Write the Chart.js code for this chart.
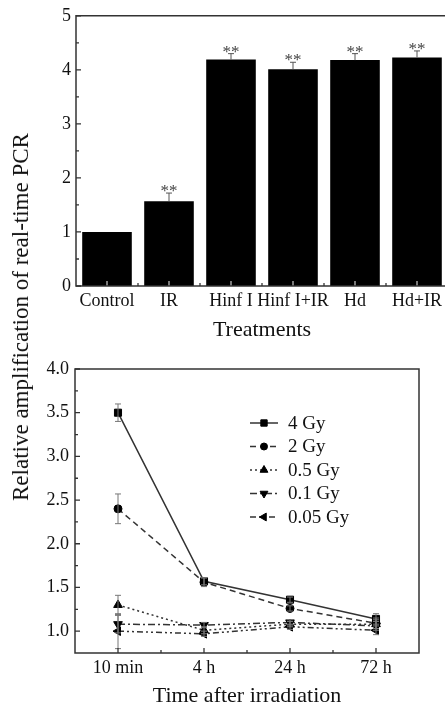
<!DOCTYPE html>
<html>
<head>
<meta charset="utf-8">
<script src="https://cdn.jsdelivr.net/npm/chart.js@4.4.1/dist/chart.umd.min.js"></script>
<style>
  html, body { margin: 0; padding: 0; background: #fff; }
  body { width: 445px; height: 710px; position: relative; overflow: hidden; }
  #barChart { position: absolute; left: 0; top: 0; }
  #lineChart { position: absolute; left: 0; top: 350px; }
  #yTitle {
    position: absolute; left: 21px; top: 317px;
    transform: translate(-50%, -50%) rotate(-90deg);
    font: 23px "Liberation Serif"; color: #111; white-space: nowrap;
  }
</style>
</head>
<body>
<canvas id="barChart" width="452" height="350"></canvas>
<canvas id="lineChart" width="445" height="360"></canvas>
<div id="yTitle">Relative amplification of real-time PCR</div>
<script>
// top panel data
const treatments = ['Control', 'IR', 'Hinf I', 'Hinf I+IR', 'Hd', 'Hd+IR'];
const amplification = [1.0, 1.57, 4.19, 4.01, 4.18, 4.23];
const amplificationErr = [0, 0.15, 0.11, 0.13, 0.12, 0.12];
const significance = ['', '**', '**', '**', '**', '**'];
const barTicks = [0, 1, 2, 3, 4, 5];

// bottom panel data
const timePoints = ['10 min', '4 h', '24 h', '72 h'];
const doses = ['4 Gy', '2 Gy', '0.5 Gy', '0.1 Gy', '0.05 Gy'];
const gy4 = [3.5, 1.57, 1.36, 1.14];
const gy2 = [2.4, 1.56, 1.26, 1.09];
const gy05 = [1.3, 1.01, 1.08, 1.08];
const gy01 = [1.08, 1.07, 1.10, 1.06];
const gy005 = [1.0, 0.97, 1.05, 1.01];
const gy4Err = [0.10, 0.04, 0.03, 0.06];
const gy2Err = [0.17, 0.05, 0.03, 0.06];
const gy05Err = [0.11, 0.04, 0.03, 0.05];
const gy01Err = [0.10, 0.03, 0.03, 0.05];
const gy005Err = [0.20, 0.03, 0.03, 0.05];
const lineTicks = [1.0, 1.5, 2.0, 2.5, 3.0, 3.5, 4.0];

const serif = 'Liberation Serif';
const ink = '#111';

// axis box with inward ticks (major on ticks, minor halfway)
const axisFrame = {
  id: 'axisFrame',
  afterDatasetsDraw(chart, args, opts) {
    const { ctx, chartArea: a, scales: { x, y } } = chart;
    ctx.save();
    ctx.lineWidth = 1.3;
    const yVals = y.ticks.map(t => t.value);
    ctx.strokeStyle = '#333';
    ctx.beginPath();
    yVals.forEach((v, i) => {
      const py = y.getPixelForValue(v);
      ctx.moveTo(a.left, py); ctx.lineTo(a.left + 5, py);
      if (i < yVals.length - 1) {
        const pm = y.getPixelForValue((v + yVals[i + 1]) / 2);
        ctx.moveTo(a.left, pm); ctx.lineTo(a.left + 3, pm);
      }
    });
    ctx.stroke();
    const n = x.getLabels().length;
    for (let i = 0; i < n; i++) {
      const px = x.getPixelForValue(i);
      ctx.strokeStyle = opts.xMajorColor || '#333';
      ctx.beginPath(); ctx.moveTo(px, a.bottom); ctx.lineTo(px, a.bottom - 5); ctx.stroke();
      if (i < n - 1) {
        const pm = (px + x.getPixelForValue(i + 1)) / 2;
        ctx.strokeStyle = '#333';
        ctx.beginPath(); ctx.moveTo(pm, a.bottom); ctx.lineTo(pm, a.bottom - 3); ctx.stroke();
      }
    }
    ctx.strokeStyle = '#333';
    ctx.lineWidth = 1.5;
    ctx.beginPath();
    if (opts.box) {
      ctx.rect(a.left, a.top, a.right - a.left, a.bottom - a.top);
    } else {
      ctx.moveTo(a.right + 10, a.top); ctx.lineTo(a.left, a.top);
      ctx.lineTo(a.left, a.bottom); ctx.lineTo(a.right + 10, a.bottom);
    }
    ctx.stroke();
    ctx.restore();
  }
};

const errorBars = {
  id: 'errorBars',
  afterDatasetsDraw(chart, args, opts) {
    const { ctx } = chart;
    const y = chart.scales.y;
    ctx.save();
    chart.data.datasets.forEach((ds, di) => {
      if (!ds.errors) return;
      const meta = chart.getDatasetMeta(di);
      meta.data.forEach((el, i) => {
        const v = ds.data[i];
        const e = ds.errors[i];
        const top = y.getPixelForValue(v + e);
        const bot = opts.upperOnly ? y.getPixelForValue(v) : y.getPixelForValue(v - e);
        if (e) {
          ctx.strokeStyle = opts.color;
          ctx.lineWidth = 1;
          ctx.beginPath();
          ctx.moveTo(el.x, bot); ctx.lineTo(el.x, top);
          ctx.moveTo(el.x - 3, top); ctx.lineTo(el.x + 3, top);
          if (!opts.upperOnly) { ctx.moveTo(el.x - 3, bot); ctx.lineTo(el.x + 3, bot); }
          ctx.stroke();
        }
        if (ds.marks && ds.marks[i]) {
          ctx.fillStyle = '#444';
          ctx.font = '17px "' + serif + '"';
          ctx.textAlign = 'center';
          ctx.textBaseline = 'alphabetic';
          ctx.fillText(ds.marks[i], el.x, top + 3);
        }
      });
    });
    ctx.restore();
  }
};

const lineLegend = {
  id: 'lineLegend',
  afterDraw(chart, args, opts) {
    const { ctx } = chart;
    chart.data.datasets.forEach((ds, i) => {
      const yy = opts.top + i * opts.gap;
      ctx.save();
      ctx.strokeStyle = ds.borderColor;
      ctx.lineWidth = ds.borderWidth;
      ctx.setLineDash(ds.borderDash || []);
      ctx.beginPath();
      ctx.moveTo(opts.left, yy); ctx.lineTo(opts.left + opts.len, yy);
      ctx.stroke();
      ctx.setLineDash([]);
      ctx.fillStyle = '#000';
      ctx.strokeStyle = '#000';
      ctx.lineWidth = 1;
      Chart.helpers.drawPoint(ctx, {
        pointStyle: ds.pointStyle, rotation: ds.pointRotation || 0,
        radius: ds.pointRadius - 0.5, borderWidth: 1
      }, opts.left + opts.len / 2, yy);
      ctx.fillStyle = ink;
      ctx.font = '19px "' + serif + '"';
      ctx.textAlign = 'left';
      ctx.textBaseline = 'middle';
      ctx.fillText(ds.label, opts.left + opts.len + 10, yy + 1);
      ctx.restore();
    });
  }
};

const tickFont = { family: serif, size: 18 };
const titleFont = { family: serif, size: 22 };

new Chart(document.getElementById('barChart'), {
  type: 'bar',
  data: {
    labels: treatments,
    datasets: [{
      data: amplification,
      errors: amplificationErr,
      marks: significance,
      backgroundColor: '#000',
      barPercentage: 0.8,
      categoryPercentage: 1.0
    }]
  },
  options: {
    responsive: false,
    devicePixelRatio: 1,
    animation: false,
    layout: { padding: { top: 13, right: 4, left: 0, bottom: 0 } },
    plugins: {
      legend: { display: false },
      tooltip: { enabled: false },
      axisFrame: { box: false, xMajorColor: '#bbb' },
      errorBars: { upperOnly: true, color: '#555' }
    },
    scales: {
      x: {
        offset: true,
        grid: { display: false, drawTicks: false },
        border: { display: false },
        ticks: { font: tickFont, color: ink, padding: 4, maxRotation: 0, autoSkip: false },
        title: { display: true, text: 'Treatments', font: titleFont, color: ink, padding: { top: 0, bottom: 7 } },
        afterFit: s => { s.height = 64; }
      },
      y: {
        min: 0, max: 5,
        afterBuildTicks: s => { s.ticks = barTicks.map(v => ({ value: v })); },
        grid: { display: false, drawTicks: false },
        border: { display: false },
        ticks: { font: tickFont, color: ink, padding: 5 },
        afterFit: s => { s.width = 76; }
      }
    }
  },
  plugins: [errorBars, axisFrame]
});

const styles = [
  { pointStyle: 'rect', pointRadius: 5, pointRotation: 0, borderDash: [] },
  { pointStyle: 'circle', pointRadius: 4, pointRotation: 0, borderDash: [6, 4] },
  { pointStyle: 'triangle', pointRadius: 5, pointRotation: 0, borderDash: [2, 3] },
  { pointStyle: 'triangle', pointRadius: 5, pointRotation: 180, borderDash: [7, 3, 2, 3] },
  { pointStyle: 'triangle', pointRadius: 5, pointRotation: -90, borderDash: [6, 3, 2, 3, 2, 3] }
];
const series = [gy4, gy2, gy05, gy01, gy005];
const seriesErr = [gy4Err, gy2Err, gy05Err, gy01Err, gy005Err];

new Chart(document.getElementById('lineChart'), {
  type: 'line',
  data: {
    labels: timePoints,
    datasets: series.map((d, i) => Object.assign({
      label: doses[i],
      data: d,
      errors: seriesErr[i],
      borderColor: '#333',
      borderWidth: 1.5,
      pointBackgroundColor: '#000',
      pointBorderColor: '#000',
      pointBorderWidth: 1,
      fill: false,
      tension: 0
    }, styles[i]))
  },
  options: {
    responsive: false,
    devicePixelRatio: 1,
    animation: false,
    layout: { padding: { top: 19, right: 26, left: 0, bottom: 0 } },
    plugins: {
      legend: { display: false },
      tooltip: { enabled: false },
      axisFrame: { box: true },
      errorBars: { upperOnly: false, color: '#777' },
      lineLegend: { left: 250, len: 28, top: 73, gap: 23.5 }
    },
    scales: {
      x: {
        offset: true,
        grid: { display: false, drawTicks: false },
        border: { display: false },
        ticks: { font: tickFont, color: ink, padding: 4, maxRotation: 0 },
        title: { display: true, text: 'Time after irradiation', font: titleFont, color: ink, padding: { top: 0, bottom: 1 } },
        afterFit: s => { s.height = 57; }
      },
      y: {
        min: 0.75, max: 4.0,
        afterBuildTicks: s => { s.ticks = lineTicks.map(v => ({ value: v })); },
        grid: { display: false, drawTicks: false },
        border: { display: false },
        ticks: { font: tickFont, color: ink, padding: 6, callback: v => v.toFixed(1) },
        afterFit: s => { s.width = 75; }
      }
    }
  },
  plugins: [errorBars, axisFrame, lineLegend]
});
</script>
</body>
</html>
